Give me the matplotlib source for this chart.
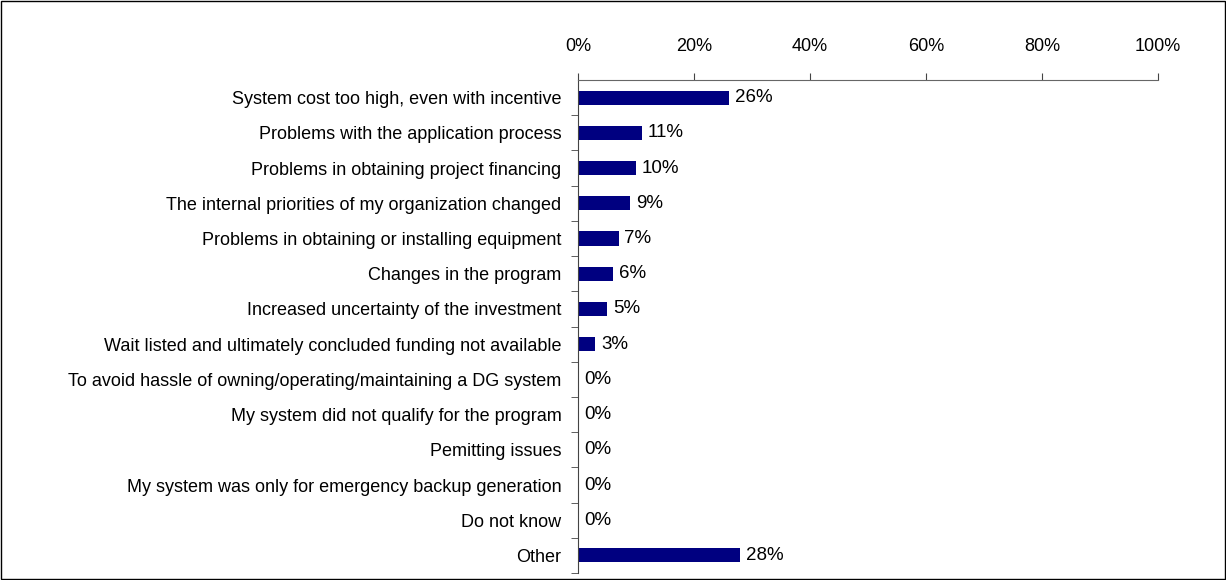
import matplotlib.pyplot as plt
from matplotlib.ticker import FixedLocator, PercentFormatter

plt.rcParams['font.family'] = ['Liberation Sans', 'DejaVu Sans']

reasons = [
    "System cost too high, even with incentive",
    "Problems with the application process",
    "Problems in obtaining project financing",
    "The internal priorities of my organization changed",
    "Problems in obtaining or installing equipment",
    "Changes in the program",
    "Increased uncertainty of the investment",
    "Wait listed and ultimately concluded funding not available",
    "To avoid hassle of owning/operating/maintaining a DG system",
    "My system did not qualify for the program",
    "Pemitting issues",
    "My system was only for emergency backup generation",
    "Do not know",
    "Other",
]
shares = [26, 11, 10, 9, 7, 6, 5, 3, 0, 0, 0, 0, 0, 28]

fig = plt.figure(figsize=(12.26, 5.8), dpi=100)
ax = fig.add_axes([0.4715, 0.012, 0.4730, 0.850])

pos = list(range(len(reasons)))
ax.barh(pos, shares, height=0.4, color='#000080')
for p, v in zip(pos, shares):
    ax.text(v + 1, p, f"{v}%", va='center', ha='left', fontsize=13.5)

ax.set_xlim(0, 100)
ax.set_ylim(len(reasons) - 0.5, -0.5)
ax.xaxis.tick_top()
ax.xaxis.set_major_formatter(PercentFormatter(decimals=0))
ax.set_xticks([0, 20, 40, 60, 80, 100])
ax.tick_params(axis='x', direction='out', length=5, pad=13, labelsize=13, color='#444444')

ax.set_yticks(pos)
ax.set_yticklabels(reasons, fontsize=13)
ax.tick_params(axis='y', length=0, pad=12)
ax.yaxis.set_minor_locator(FixedLocator([p + 0.5 for p in pos]))
ax.tick_params(axis='y', which='minor', direction='out', length=5, color='#444444')

ax.spines['right'].set_visible(False)
ax.spines['bottom'].set_visible(False)
ax.spines['top'].set_color('#666666')
ax.spines['left'].set_color('#444444')

fig.patches.append(plt.Rectangle((0.001, 0.001), 0.998, 0.997, transform=fig.transFigure,
                                 fill=False, edgecolor='black', linewidth=1))

fig.savefig('out.png', dpi=100)
